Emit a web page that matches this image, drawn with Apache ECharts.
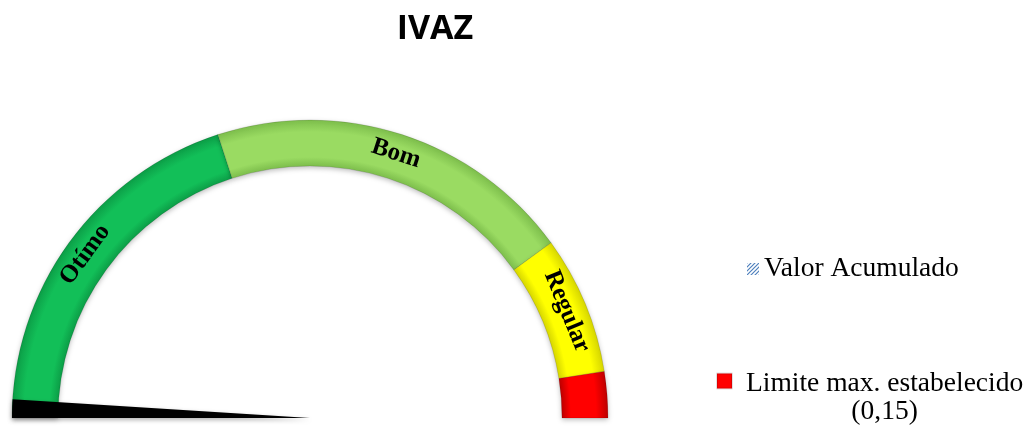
<!DOCTYPE html>
<html>
<head>
<meta charset="utf-8">
<title>IVAZ</title>
<script src="https://cdn.jsdelivr.net/npm/echarts@6/dist/echarts.min.js"></script>
<style>
    html, body { margin: 0; padding: 0; background: #fff; }
    #chart { width: 1027px; height: 428px; }
</style>
</head>
<body>
<div id="chart"></div>
<script>
// faixas do velocimetro (fração do meio círculo)
var faixas = ['Otímo', 'Bom', 'Regular', 'Limite max. estabelecido (0,15)'];
var faixaValores = [0.40, 0.40, 0.15, 0.05];
var faixaCores = ['#12BF58', '#9ADB62', '#FFFF00', '#FF0000'];
var faixaCoresEscuras = ['#0C9E47', '#7DBE4C', '#D6D600', '#BE0000'];

// ponteiro
var valorNome = 'Valor Acumulado';
var valorAcumulado = 0.02;

var centro = [310, 418];
var raioExterno = 298;
var raioInterno = 252;

// efeito de relevo na faixa
function relevo(cor, escura) {
    var ini = raioInterno / raioExterno;
    return {
        type: 'radial',
        x: centro[0],
        y: centro[1],
        r: raioExterno,
        global: true,
        colorStops: [
            { offset: 0, color: escura },
            { offset: ini, color: escura },
            { offset: ini + 0.03, color: cor },
            { offset: 0.96, color: cor },
            { offset: 1, color: escura }
        ]
    };
}

// padrão hachurado do ícone da legenda
function hachura() {
    var c = document.createElement('canvas');
    c.width = 4;
    c.height = 4;
    var ctx = c.getContext('2d');
    ctx.fillStyle = '#fff';
    ctx.fillRect(0, 0, 4, 4);
    ctx.strokeStyle = '#4F81BD';
    ctx.lineWidth = 1.2;
    ctx.beginPath();
    ctx.moveTo(0, 4);
    ctx.lineTo(4, 0);
    ctx.moveTo(-1, 1);
    ctx.lineTo(1, -1);
    ctx.moveTo(3, 5);
    ctx.lineTo(5, 3);
    ctx.stroke();
    return { image: c, repeat: 'repeat' };
}

var dadosFaixas = [];
var total = 0;
for (var i = 0; i < faixas.length; i++) {
    total += faixaValores[i];
    dadosFaixas.push({
        name: faixas[i],
        value: faixaValores[i],
        itemStyle: { color: relevo(faixaCores[i], faixaCoresEscuras[i]) },
        label: { show: i < 3 }
    });
}
// metade de baixo escondida
dadosFaixas.push({
    name: '',
    value: total,
    itemStyle: { color: 'transparent', borderWidth: 0, shadowBlur: 0 },
    label: { show: false }
});

var myChart = echarts.init(document.getElementById('chart'));

var option = {
    animation: false,
    title: {
        text: 'IVAZ',
        left: 430,
        top: 7,
        textAlign: 'center',
        textStyle: {
            fontFamily: 'Open Sans',
            fontWeight: 'bold',
            fontSize: 34,
            color: '#000'
        }
    },
    legend: [{
        data: [{ name: valorNome, itemStyle: { color: hachura() } }],
        left: 742,
        top: 250,
        itemWidth: 12,
        itemHeight: 12,
        icon: 'rect',
        selectedMode: false,
        textStyle: { fontFamily: 'Liberation Serif', fontSize: 27.5, color: '#000' }
    }, {
        data: [{ name: faixas[3], itemStyle: { color: '#FF0000' } }],
        left: 711,
        top: 365,
        itemWidth: 15,
        itemHeight: 15,
        icon: 'rect',
        selectedMode: false,
        formatter: function(name) {
            return '{a|Limite max. estabelecido}\n{b|(0,15)}';
        },
        textStyle: {
            fontFamily: 'Liberation Serif',
            fontSize: 27.5,
            color: '#000',
            padding: [34, 0, 0, 9],
            rich: {
                a: { fontFamily: 'Liberation Serif', fontSize: 27.5, lineHeight: 28, color: '#000' },
                b: { fontFamily: 'Liberation Serif', fontSize: 27.5, lineHeight: 28, color: '#000', align: 'center' }
            }
        }
    }],
    series: [{
        name: 'Faixas',
        type: 'pie',
        center: centro,
        radius: [raioInterno, raioExterno],
        startAngle: 180,
        clockwise: true,
        silent: true,
        itemStyle: {
            borderColor: 'rgba(0,0,0,0.12)',
            borderWidth: 1,
            shadowColor: 'rgba(0,0,0,0.25)',
            shadowBlur: 5,
            shadowOffsetY: 2
        },
        label: {
            show: true,
            position: 'inside',
            rotate: 'tangential',
            fontFamily: 'Liberation Serif',
            fontWeight: 'bold',
            fontSize: 25,
            color: '#000'
        },
        labelLine: { show: false },
        data: dadosFaixas
    }, {
        name: valorNome,
        type: 'pie',
        center: centro,
        radius: [0, raioExterno],
        startAngle: 180,
        clockwise: true,
        silent: true,
        z: 5,
        label: { show: false },
        labelLine: { show: false },
        data: [{
            name: valorNome,
            value: valorAcumulado,
            itemStyle: { color: '#000', shadowColor: 'rgba(0,0,0,0.3)', shadowBlur: 4, shadowOffsetY: 2 }
        }, {
            name: '',
            value: 2 - valorAcumulado,
            itemStyle: { color: 'transparent' }
        }]
    }]
};

myChart.setOption(option);
</script>
</body>
</html>
